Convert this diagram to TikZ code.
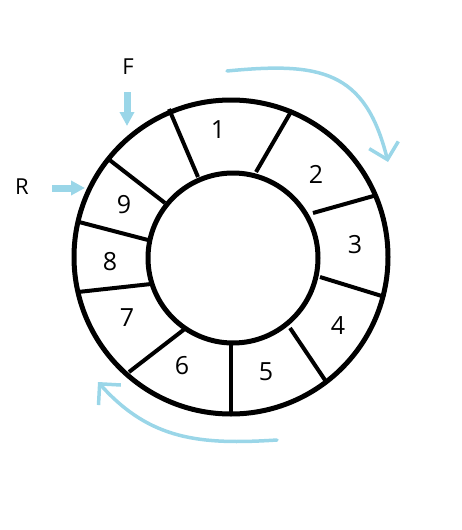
\documentclass[tikz,border=0pt]{standalone}
\usepackage{fontspec}
\setmainfont{Open Sans}
\usetikzlibrary{arrows.meta}

\begin{document}
\begin{tikzpicture}[
  x=1pt,y=-1pt,
  ring/.style={line width=5pt,black},
  spoke/.style={line width=4pt,black},
  flow/.style={line width=3.5pt,color=qblue,line cap=round,
    -{Straight Barb[length=15pt,width=30pt,line width=3.5pt]}},
  pointer/.style={line width=7pt,color=qblue,
    -{Triangle[length=14pt,width=14pt]}},
  slot/.style={font=\fontsize{25}{30}\selectfont},
  tag/.style={font=\fontsize{22}{26}\selectfont}
]
  \definecolor{qblue}{HTML}{9AD6E8}
  \useasboundingbox (0,0) rectangle (461,530);

  % queue ring: outer and inner circle
  \draw[ring] (231,257) circle[radius=157];
  \draw[ring] (233,258) circle[radius=85];

  % slot separators
  \draw[spoke] (198,177) -- (169,109);
  \draw[spoke] (256,172) -- (292,110);
  \draw[spoke] (313,213) -- (377,195);
  \draw[spoke] (320,277) -- (385,297);
  \draw[spoke] (290,328) -- (327,383);
  \draw[spoke] (231,343) -- (231,413);
  \draw[spoke] (186,328) -- (129,372);
  \draw[spoke] (151,284) -- (78,292);
  \draw[spoke] (148,240) -- (79,222);
  \draw[spoke] (165,203) -- (107,158);

  % slot numbers
  \node[slot] (s1) at (218,130) {1};
  \node[slot] (s2) at (316,174) {2};
  \node[slot] (s3) at (355,245) {3};
  \node[slot] (s4) at (338,326) {4};
  \node[slot] (s5) at (266,372) {5};
  \node[slot] (s6) at (182,366) {6};
  \node[slot] (s7) at (127,318) {7};
  \node[slot] (s8) at (110,262) {8};
  \node[slot] (s9) at (124,205) {9};

  % front and rear pointers
  \node[tag] (front) at (128,67) {F};
  \node[tag] (rear) at (22,187) {R};
  \coordinate (fhead) at (127,126);
  \coordinate (rhead) at (85,188);
  \draw[pointer] (127,92) -- (fhead);
  \draw[pointer] (52,188) -- (rhead);

  % direction of travel
  \draw[flow] (227,71) .. controls (320,62) and (365,70) .. (388,162);
  \draw[flow] (277,440) .. controls (200,445) and (150,440) .. (98,382);
\end{tikzpicture}
\end{document}
